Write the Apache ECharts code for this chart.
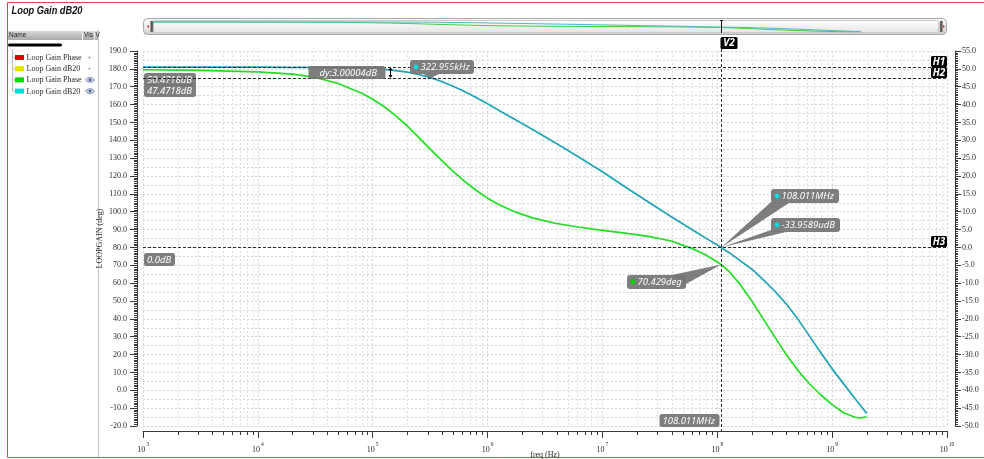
<!DOCTYPE html>
<html>
<head>
<meta charset="utf-8">
<title>Loop Gain dB20</title>
<script src="https://cdn.jsdelivr.net/npm/echarts@6.0.0/dist/echarts.min.js"></script>
<style>
  html, body { margin: 0; padding: 0; background: #ffffff; }
  #chart { width: 984px; height: 459px; }
</style>
</head>
<body>
<div id="chart"></div>
<script>
// ---- AC sweep of the loop gain ----
const freqHz = [1e3, 3.16e3, 1e4, 2e4, 3.16e4, 5e4, 7.94e4, 1e5, 1.26e5, 1.58e5,
  2e5, 2.51e5, 322955, 3.98e5, 5.01e5, 6.31e5, 7.94e5, 1e6, 1.26e6, 1.78e6,
  2.51e6, 3.98e6, 6.31e6, 1e7, 1.58e7, 2.51e7, 3.98e7, 6.31e7, 7.94e7, 1e8,
  108.011e6, 1.26e8, 1.58e8, 2e8, 2.51e8, 3.16e8, 3.98e8, 5.01e8, 6.31e8, 7.94e8,
  1e9, 1.26e9, 1.58e9, 1.78e9, 2e9];

const phaseDeg = [179.5, 179.2, 178.3, 177.0, 175.2, 171.8, 166.5, 163.0, 158.8, 153.8,
  148.0, 141.6, 134.5, 128.7, 122.6, 117.0, 112.0, 107.6, 103.9, 99.6,
  96.4, 93.4, 91.3, 89.6, 88.0, 86.2, 83.6, 78.9, 75.7, 71.9,
  70.429, 66.7, 59.3, 50.0, 40.0, 29.9, 20.1, 11.3, 3.8, -2.5,
  -8.0, -12.6, -15.1, -15.4, -14.8];

const gainDb = [50.47, 50.47, 50.46, 50.44, 50.43, 50.37, 50.21, 50.07, 49.86, 49.53,
  49.07, 48.42, 47.4718, 46.45, 45.14, 43.66, 41.99, 40.22, 38.37, 35.6,
  32.9, 29.1, 25.2, 21.2, 16.9, 12.7, 8.6, 4.6, 2.6, 0.66,
  -0.0000339589, -1.4, -3.7, -6.1, -9.0, -12.2, -15.8, -20.0, -24.7, -29.4,
  -34.0, -38.2, -42.3, -44.4, -46.5];

// ---- cursor readouts ----
const dcGainDb = 50.4718;
const bwFreqHz = 322955;
const bwGainDb = 47.4718;
const deltaDb = 3.00004;
const deltaFreqHz = 1.41e5;
const ugFreqHz = 108.011e6;
const ugGainDb = -33.9589e-6;
const ugPhaseDeg = 70.429;
const hCursorDb = [dcGainDb, bwGainDb, 0];
const hCursorNames = ['H1', 'H2', 'H3'];

// ---- axis ranges ----
const freqRange = [1e3, 1e10];
const decadeExponents = [3, 4, 5, 6, 7, 8, 9];
const decadeMultipliers = [2, 3, 4, 5, 6, 7, 8, 9];
const phaseRange = [-20, 190];
const phaseStep = 10;
const gainRange = [-50, 55];
const gainStep = 5;

// ---- browser list on the left ----
const legendNames = ['Loop Gain Phase', 'Loop Gain dB20', 'Loop Gain Phase', 'Loop Gain dB20'];
const legendColors = ['#e00000', '#e2e200', '#00d800', '#00dcdc'];
const legendVisible = [false, false, true, true];

const titleText = 'Loop Gain dB20';
const dateText = 'Wed Nov 15 17:05:44';

// ---------------------------------------------------------------
const SERIF = '"Liberation Serif", "DejaVu Serif", serif';
const TAG_FONT = 'italic 9.5px "Noto Sans", "Liberation Sans", sans-serif';
const TAG_BOLD = 'bold italic 10px "Noto Sans", "Liberation Sans", sans-serif';
const HEAD_FONT = 'bold italic 11px "Liberation Sans", sans-serif';
const TAG_FILL = 'rgba(116,116,116,0.93)';
const PHASE_COLOR = '#22dd22';
const GAIN_COLOR = '#1ea4b6';

const measure = (() => {
  const ctx = document.createElement('canvas').getContext('2d');
  return (text, font) => { ctx.font = font; return ctx.measureText(text).width; };
})();

const zip = (xs, ys) => xs.map((x, i) => [x, ys[i]]);
const fmtDb = v => (v === 0 ? '0.0' : v.toFixed(4)) + 'dB';

// 2..9 x 10^n positions of the logarithmic sub-grid
const subDecades = [];
decadeExponents.forEach(n => decadeMultipliers.forEach(k => subDecades.push([k * Math.pow(10, n), 0])));

function tag(x, y, text, padL, z2) {
  const w = Math.round(measure(text, TAG_FONT) + padL + 4);
  return [
    { type: 'rect', z2: z2, shape: { x: x, y: y, width: w, height: 13, r: 2.5 }, style: { fill: TAG_FILL } },
    { type: 'text', z2: z2, x: x + padL, y: y + 7, style: { text: text, fill: '#fff', font: TAG_FONT, verticalAlign: 'middle', align: 'left' } }
  ];
}

function blackTag(x, y, w, h, text) {
  return [
    { type: 'rect', z2: 8, shape: { x: x, y: y, width: w, height: h, r: 1.5 }, style: { fill: '#000' } },
    { type: 'text', z2: 9, x: x + w / 2, y: y + h / 2 + 0.5, style: { text: text, fill: '#fff', font: TAG_BOLD, align: 'center', verticalAlign: 'middle' } }
  ];
}

// callout with a pointer to a point on a curve
const calloutLayouts = {
  bw:  { box: (p, w, h) => [p[0] - 21, p[1] - 18],   base: (w, h) => [[13, h], [29, h]] },
  ugF: { box: (p, w, h) => [p[0] + 50, p[1] - 58.5], base: (w, h) => [[0, h - 1], [18, h]] },
  ugG: { box: (p, w, h) => [p[0] + 50, p[1] - 29.5], base: (w, h) => [[0, h - 2], [15, h]] },
  ph:  { box: (p, w, h) => [p[0] - 35 - w, p[1] + 10], base: (w, h) => [[w - 14, 0], [w, 9]] }
};

function callout(p, text, dotColor, lay) {
  const w = Math.round(measure(text, TAG_FONT) + 15);
  const h = 14;
  const b = lay.box(p, w, h).map(Math.round);
  const base = lay.base(w, h);
  return [
    { type: 'polygon', shape: { points: [[p[0], p[1]], [b[0] + base[0][0], b[1] + base[0][1]], [b[0] + base[1][0], b[1] + base[1][1]]] }, style: { fill: TAG_FILL } },
    { type: 'rect', shape: { x: b[0], y: b[1], width: w, height: h, r: 3 }, style: { fill: TAG_FILL } },
    { type: 'circle', shape: { cx: b[0] + 6, cy: b[1] + h / 2, r: 2.4 }, style: { fill: dotColor } },
    { type: 'text', x: b[0] + 10.5, y: b[1] + h / 2 + 0.5, style: { text: text, fill: '#fff', font: TAG_FONT, verticalAlign: 'middle', align: 'left' } }
  ];
}

const gainCallouts = [
  { value: [bwFreqHz, bwGainDb], text: (bwFreqHz / 1e3).toFixed(3) + 'kHz', lay: calloutLayouts.bw },
  { value: [ugFreqHz, ugGainDb], text: (ugFreqHz / 1e6).toFixed(3) + 'MHz', lay: calloutLayouts.ugF },
  { value: [ugFreqHz, ugGainDb], text: (ugGainDb * 1e6).toFixed(4) + 'udB', lay: calloutLayouts.ugG }
];
const phaseCallouts = [
  { value: [ugFreqHz, ugPhaseDeg], text: ugPhaseDeg.toFixed(3) + 'deg', lay: calloutLayouts.ph }
];

// ---------------------------------------------------------------
const axisInk = '#3a3a3a';
const gridInk = '#d6d6d6';
const labelStyle = { fontFamily: SERIF, fontSize: 8, color: '#2a2a2a' };

// static frame, title and the browser panel
const chrome = [];
chrome.push({ type: 'rect', silent: true, shape: { x: 7.5, y: 2.5, width: 990, height: 455 }, style: { fill: 'none', stroke: '#d44a4a', lineWidth: 1 } });
chrome.push({ type: 'text', x: 10, y: 5, scaleX: 0.84, originX: 10, style: { text: titleText, font: HEAD_FONT, fill: '#111', verticalAlign: 'top', textVerticalAlign: 'top' } });
chrome.push({ type: 'text', x: 952, y: 5, scaleX: 0.86, originX: 952, style: { text: dateText, font: HEAD_FONT, fill: '#111', align: 'right', textAlign: 'right', verticalAlign: 'top', textVerticalAlign: 'top' } });
chrome.push({ type: 'line', shape: { x1: 98.5, y1: 30, x2: 98.5, y2: 457 }, style: { stroke: '#c4c4c4', lineWidth: 1 } });
chrome.push({ type: 'rect', shape: { x: 8, y: 31, width: 90, height: 9 }, style: { fill: new echarts.graphic.LinearGradient(0, 0, 0, 1, [{ offset: 0, color: '#d8d8d8' }, { offset: 1, color: '#a9a9a9' }]) } });
chrome.push({ type: 'line', shape: { x1: 82.5, y1: 31, x2: 82.5, y2: 40 }, style: { stroke: '#f0f0f0' } });
chrome.push({ type: 'line', shape: { x1: 94.5, y1: 31, x2: 94.5, y2: 40 }, style: { stroke: '#f0f0f0' } });
[['Name', 9], ['Vis', 84], ['V', 95.5]].forEach(([t, x]) => {
  chrome.push({ type: 'text', x: x, y: 35.5, style: { text: t, font: '6.5px "Liberation Sans", sans-serif', fill: '#222', verticalAlign: 'middle', textVerticalAlign: 'middle' } });
});
chrome.push({ type: 'rect', shape: { x: 8, y: 43.5, width: 54, height: 3, r: 1.5 }, style: { fill: '#000' } });
chrome.push({ type: 'line', shape: { x1: 12.5, y1: 49, x2: 12.5, y2: 91.5 }, style: { stroke: '#bdbdbd' } });
legendNames.forEach((name, i) => {
  const cy = 57.5 + i * 11.2;
  chrome.push({ type: 'line', shape: { x1: 12.5, y1: cy, x2: 15, y2: cy }, style: { stroke: '#bdbdbd' } });
  chrome.push({ type: 'rect', shape: { x: 15, y: cy - 2.5, width: 9, height: 5 }, style: { fill: legendColors[i] } });
  chrome.push({ type: 'text', x: 26.5, y: cy + 0.5, style: { text: name, font: '8px ' + SERIF, fill: '#2a2a2a', verticalAlign: 'middle', textVerticalAlign: 'middle' } });
  if (legendVisible[i]) {
    chrome.push({ type: 'polygon', shape: { points: [[85.5, cy], [87.5, cy - 2], [90, cy - 2.4], [92.5, cy - 2], [94.5, cy], [92.5, cy + 2], [90, cy + 2.4], [87.5, cy + 2]] }, style: { fill: '#c7d0e4', stroke: '#6f7fa6', lineWidth: 0.8 } });
    chrome.push({ type: 'circle', shape: { cx: 90, cy: cy, r: 1.3 }, style: { fill: '#4a5a86' } });
  } else {
    chrome.push({ type: 'circle', shape: { cx: 89.5, cy: cy, r: 0.9 }, style: { fill: '#8a8a9a' } });
  }
});
// overview bar above the plot
chrome.push({ type: 'rect', z: -1, shape: { x: 143.5, y: 18.5, width: 803, height: 16, r: 4 }, style: { fill: new echarts.graphic.LinearGradient(0, 0, 0, 1, [{ offset: 0, color: '#fbfbfb' }, { offset: 0.55, color: '#e9e9e9' }, { offset: 1, color: '#cdcdcd' }]), stroke: '#a9a9a9', lineWidth: 1 } });
chrome.push({ type: 'rect', z: -1, shape: { x: 153.5, y: 20.5, width: 785, height: 12, r: 2 }, style: { fill: new echarts.graphic.LinearGradient(0, 0, 0, 1, [{ offset: 0, color: '#ffffff' }, { offset: 1, color: '#e4e4e4' }]), stroke: '#c9c9c9', lineWidth: 1 } });
[[145, 1], [941, -1]].forEach(([x, dir]) => {
  const ax = dir > 0 ? x + 2 : x + 4;
  chrome.push({ type: 'polygon', shape: { points: [[ax, 26.5], [ax + 2 * dir, 25], [ax + 2 * dir, 28]] }, style: { fill: '#e02020' } });
  const hx = dir > 0 ? 150.5 : 940;
  chrome.push({ type: 'rect', shape: { x: hx, y: 21, width: 2.5, height: 11 }, style: { fill: '#555', stroke: '#999', lineWidth: 0.5 } });
});

// ---------------------------------------------------------------
const chart = echarts.init(document.getElementById('chart'), null, { renderer: 'canvas' });

const option = {
  animation: false,
  backgroundColor: '#ffffff',
  graphic: { elements: chrome },
  grid: [
    { left: 143, right: 37, top: 51, bottom: 33, outerBoundsMode: 'none', containLabel: false },
    { left: 153, right: 45, top: 21.5, height: 10.5, outerBoundsMode: 'none', containLabel: false }
  ],
  xAxis: [
    {
      type: 'log', logBase: 10, gridIndex: 0, min: freqRange[0], max: freqRange[1], splitNumber: 7,
      position: 'bottom', offset: 5,
      name: 'freq (Hz)', nameLocation: 'middle', nameGap: 20, nameMoveOverlap: false,
      nameTextStyle: { fontFamily: SERIF, fontSize: 8, color: '#2a2a2a' },
      axisLine: { show: true, onZero: false, lineStyle: { color: axisInk, width: 1 } },
      axisTick: { show: true, length: 7, lineStyle: { color: axisInk } },
      minorTick: { show: false },
      axisLabel: {
        margin: 11,
        formatter: v => '{b|10}{e|' + Math.round(Math.log10(v)) + '}',
        rich: {
          b: { fontFamily: SERIF, fontSize: 8, color: '#2a2a2a', verticalAlign: 'bottom', lineHeight: 12 },
          e: { fontFamily: SERIF, fontSize: 5.5, color: '#2a2a2a', verticalAlign: 'top', lineHeight: 12, padding: [0, 0, 0, 1] }
        }
      },
      splitLine: { show: true, lineStyle: { color: gridInk, type: [2, 2], width: 1 } },
      minorSplitLine: { show: false }
    },
    { type: 'log', logBase: 10, gridIndex: 1, min: freqRange[0], max: freqRange[1], show: false }
  ],
  yAxis: [
    {
      type: 'value', gridIndex: 0, min: phaseRange[0], max: phaseRange[1], interval: phaseStep,
      position: 'left', offset: 6,
      name: 'LOOPGAIN (deg)', nameLocation: 'middle', nameGap: 33, nameRotate: 90, nameMoveOverlap: false,
      nameTextStyle: { fontFamily: SERIF, fontSize: 8, color: '#2a2a2a' },
      axisLine: { show: true, lineStyle: { color: axisInk } },
      axisTick: { show: true, length: 7, lineStyle: { color: axisInk } },
      minorTick: { show: true, splitNumber: 10, length: 3, lineStyle: { color: axisInk } },
      axisLabel: Object.assign({ margin: 10, formatter: v => v.toFixed(1) }, labelStyle),
      splitLine: { show: false }
    },
    {
      type: 'value', gridIndex: 0, min: gainRange[0], max: gainRange[1], interval: gainStep,
      position: 'right', offset: 8,
      axisLine: { show: true, lineStyle: { color: axisInk } },
      axisTick: { show: true, length: 6, lineStyle: { color: axisInk } },
      minorTick: { show: true, splitNumber: 10, length: 3, lineStyle: { color: axisInk } },
      axisLabel: Object.assign({ margin: 7, formatter: v => v.toFixed(1) }, labelStyle),
      splitLine: { show: false }
    },
    {
      // half-step horizontal grid
      type: 'value', gridIndex: 0, min: phaseRange[0], max: phaseRange[1], interval: phaseStep / 2,
      position: 'left',
      axisLine: { show: false }, axisTick: { show: false }, axisLabel: { show: false },
      splitLine: { show: true, lineStyle: { color: gridInk, type: [2, 2], width: 1 } }
    },
    { type: 'value', gridIndex: 1, min: phaseRange[0], max: phaseRange[1], show: false },
    { type: 'value', gridIndex: 1, min: gainRange[0], max: gainRange[1], show: false }
  ],
  series: [
    {
      // logarithmic sub-grid and minor ticks of the frequency axis
      type: 'custom', xAxisIndex: 0, yAxisIndex: 1, z: 1, silent: true,
      data: subDecades,
      renderItem: (params, api) => {
        const cs = params.coordSys;
        const x = Math.round(api.coord([api.value(0), 0])[0]) + 0.5;
        const axisY = cs.y + cs.height + 5.5;
        return {
          type: 'group',
          children: [
            { type: 'line', shape: { x1: x, y1: cs.y, x2: x, y2: cs.y + cs.height }, style: { stroke: '#e0e0e0', lineWidth: 1, lineDash: [2, 2] } },
            { type: 'line', shape: { x1: x, y1: axisY, x2: x, y2: axisY + 3.5 }, style: { stroke: axisInk, lineWidth: 1 } }
          ]
        };
      }
    },
    {
      name: 'Loop Gain Phase', type: 'line', xAxisIndex: 0, yAxisIndex: 0, z: 3,
      data: zip(freqHz, phaseDeg), symbol: 'none',
      lineStyle: { color: PHASE_COLOR, width: 1.7, join: 'round' }
    },
    {
      name: 'Loop Gain dB20', type: 'line', xAxisIndex: 0, yAxisIndex: 1, z: 3,
      data: zip(freqHz, gainDb), symbol: 'none',
      lineStyle: { color: GAIN_COLOR, width: 1.7, join: 'round' }
    },
    {
      type: 'line', xAxisIndex: 1, yAxisIndex: 3, data: zip(freqHz, phaseDeg), symbol: 'none',
      lineStyle: { color: '#3ccf3c', width: 1 }, silent: true
    },
    {
      type: 'line', xAxisIndex: 1, yAxisIndex: 4, data: zip(freqHz, gainDb), symbol: 'none',
      lineStyle: { color: '#4db8c4', width: 1 }, silent: true
    },
    {
      // horizontal cursors H1..H3
      type: 'custom', xAxisIndex: 0, yAxisIndex: 1, z: 5, silent: true,
      data: hCursorDb.map(v => [freqRange[0], v]),
      renderItem: (params, api) => {
        const cs = params.coordSys;
        const i = params.dataIndex;
        const y = Math.round(api.coord([freqRange[0], api.value(1)])[1]) + 0.5;
        return {
          type: 'group',
          children: [
            ...tag(cs.x + 1, y + 5.5, fmtDb(hCursorDb[i]), 3, 1),
            { type: 'line', z2: 3, shape: { x1: cs.x, y1: y, x2: cs.x + cs.width, y2: y }, style: { stroke: '#2b2b2b', lineWidth: 1, lineDash: [3, 2] } },
            ...blackTag(cs.x + cs.width - 16, y - 11.5, 16, 11, hCursorNames[i])
          ]
        };
      }
    },
    {
      // vertical cursor V2
      type: 'custom', xAxisIndex: 0, yAxisIndex: 1, z: 5, silent: true,
      data: [[ugFreqHz, 0]],
      renderItem: (params, api) => {
        const cs = params.coordSys;
        const x = Math.round(api.coord([api.value(0), 0])[0]) + 0.5;
        const label = (ugFreqHz / 1e6).toFixed(3) + 'MHz';
        const w = Math.round(measure(label, TAG_FONT) + 7);
        return {
          type: 'group',
          children: [
            { type: 'line', z2: 3, shape: { x1: x, y1: cs.y - 2, x2: x, y2: cs.y + cs.height + 5 }, style: { stroke: '#2b2b2b', lineWidth: 1, lineDash: [3, 2] } },
            { type: 'line', z2: 3, shape: { x1: x, y1: 20, x2: x, y2: 33 }, style: { stroke: '#111', lineWidth: 1 } },
            { type: 'line', z2: 3, shape: { x1: x - 1.5, y1: 20.5, x2: x + 1.5, y2: 20.5 }, style: { stroke: '#111', lineWidth: 1 } },
            ...blackTag(x - 1, cs.y - 14, 17, 12, 'V2'),
            ...tag(x - 2 - w, cs.y + cs.height - 12, label, 3, 2)
          ]
        };
      }
    },
    {
      // delta marker between H1 and H2
      type: 'custom', xAxisIndex: 0, yAxisIndex: 1, z: 6, silent: true,
      data: [[deltaFreqHz, dcGainDb, bwGainDb]],
      renderItem: (params, api) => {
        const p1 = api.coord([api.value(0), api.value(1)]);
        const p2 = api.coord([api.value(0), api.value(2)]);
        const x = Math.round(p1[0]) + 0.5;
        const yc = (p1[1] + p2[1]) / 2;
        const label = 'dy:' + deltaDb.toFixed(5) + 'dB';
        const w = Math.round(measure(label, TAG_FONT) + 20);
        return {
          type: 'group',
          children: [
            { type: 'rect', shape: { x: x - 5 - w, y: Math.round(yc - 6.5), width: w, height: 13, r: 3 }, style: { fill: TAG_FILL } },
            { type: 'text', x: x - 5 - w + 11, y: Math.round(yc - 6.5) + 7, style: { text: label, fill: '#fff', font: TAG_FONT, verticalAlign: 'middle', align: 'left' } },
            { type: 'line', shape: { x1: x, y1: p1[1] + 2, x2: x, y2: p2[1] - 2 }, style: { stroke: '#000', lineWidth: 1 } },
            { type: 'polygon', shape: { points: [[x, p1[1]], [x - 2, p1[1] + 3], [x + 2, p1[1] + 3]] }, style: { fill: '#000' } },
            { type: 'polygon', shape: { points: [[x, p2[1]], [x - 2, p2[1] - 3], [x + 2, p2[1] - 3]] }, style: { fill: '#000' } }
          ]
        };
      }
    },
    {
      // point readouts on the gain curve
      type: 'custom', xAxisIndex: 0, yAxisIndex: 1, z: 7, silent: true,
      data: gainCallouts.map(c => c.value),
      renderItem: (params, api) => {
        const c = gainCallouts[params.dataIndex];
        const p = api.coord([api.value(0), api.value(1)]);
        return { type: 'group', children: callout(p, c.text, '#00e0e0', c.lay) };
      }
    },
    {
      // point readout on the phase curve
      type: 'custom', xAxisIndex: 0, yAxisIndex: 0, z: 7, silent: true,
      data: phaseCallouts.map(c => c.value),
      renderItem: (params, api) => {
        const c = phaseCallouts[params.dataIndex];
        const p = api.coord([api.value(0), api.value(1)]);
        return { type: 'group', children: callout(p, c.text, '#00d000', c.lay) };
      }
    }
  ]
};

chart.setOption(option);
</script>
</body>
</html>
